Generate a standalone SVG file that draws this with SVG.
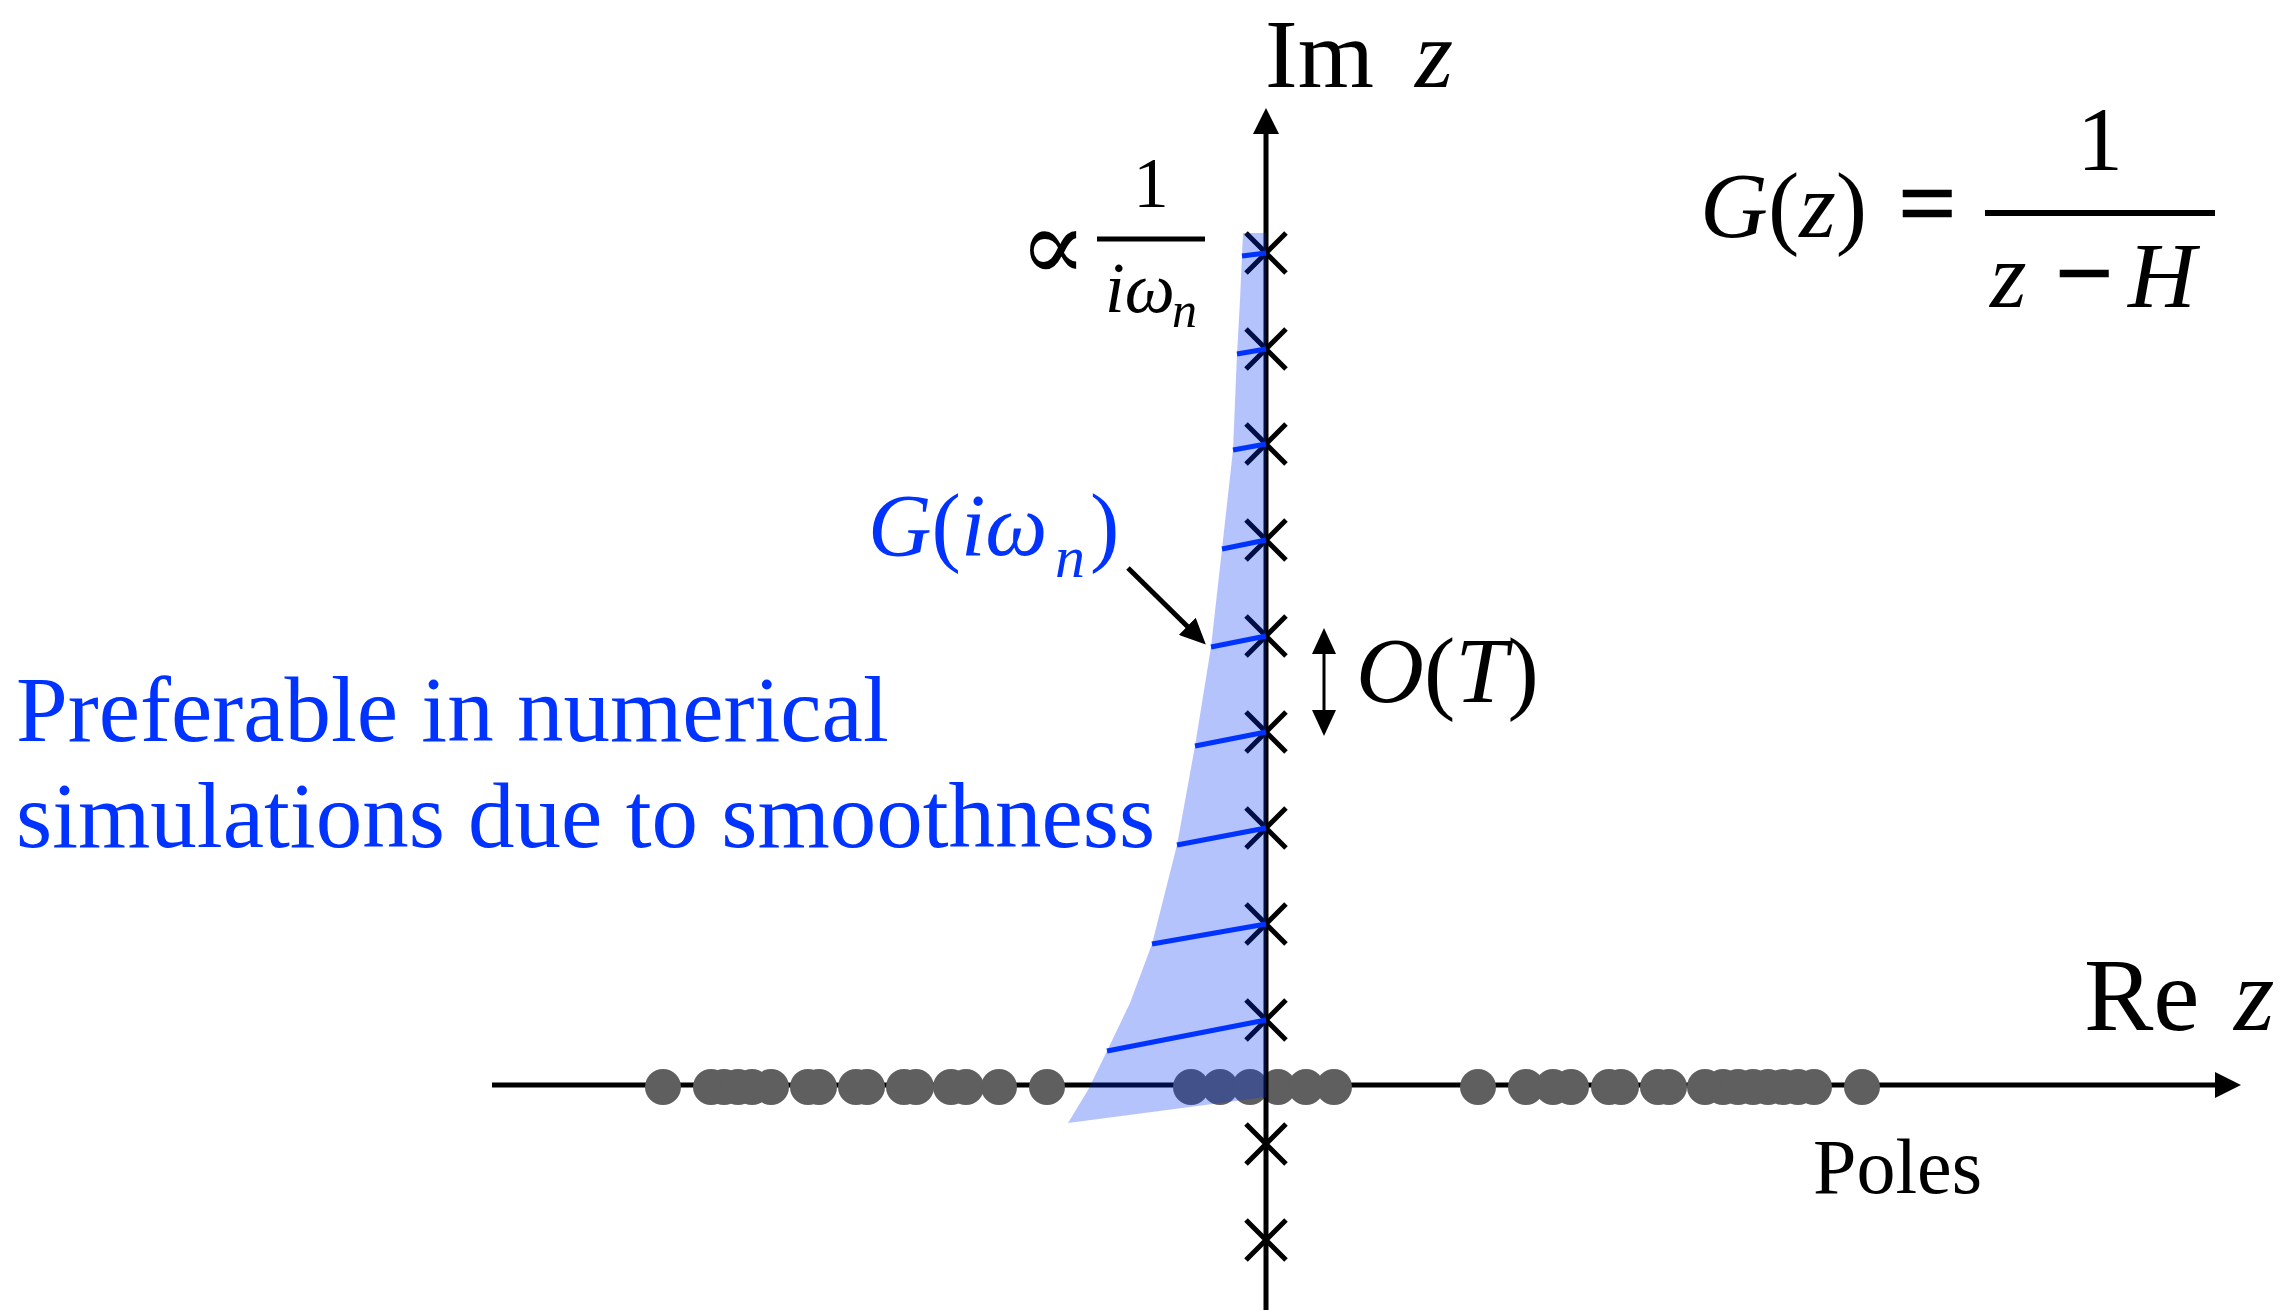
<svg xmlns="http://www.w3.org/2000/svg" width="2282" height="1310" viewBox="0 0 2282 1310">
<style>
text{font-family:"Liberation Serif","DejaVu Serif",serif;fill:#000}
.it{font-style:italic}
.blue{fill:#0033ff}
.axis{stroke:#000;stroke-width:5;fill:none}
.cross{stroke:#000;stroke-width:5;fill:none}
.dot{fill:#5f5f5f}
.bl{stroke:#0033ff;stroke-width:5;fill:none}
.thick{stroke:#000;stroke-width:2.5}
</style>
<defs>
<marker id="ah" markerUnits="userSpaceOnUse" markerWidth="26" markerHeight="26" viewBox="0 0 26 26" refX="1" refY="13" orient="auto-start-reverse">
<path d="M0,0 L26,13 L0,26 Z" fill="#000"/>
</marker>
<marker id="ahs" markerUnits="userSpaceOnUse" markerWidth="26" markerHeight="24" viewBox="0 0 26 24" refX="1" refY="12" orient="auto-start-reverse">
<path d="M0,0 L26,12 L0,24 Z" fill="#000"/>
</marker>
<path id="x" d="M-20,-20 L20,20 M-20,20 L20,-20"/>
</defs>

<g id="connectors">
<line id="re-axis" class="axis" x1="492" y1="1085" x2="2216" y2="1085" marker-end="url(#ah)"/>
</g>

<g id="poles">
<circle class="dot" cx="663" cy="1087" r="18"/>
<circle class="dot" cx="711" cy="1087" r="18"/>
<circle class="dot" cx="724" cy="1087" r="18"/>
<circle class="dot" cx="738" cy="1087" r="18"/>
<circle class="dot" cx="752" cy="1087" r="18"/>
<circle class="dot" cx="771" cy="1087" r="18"/>
<circle class="dot" cx="808" cy="1087" r="18"/>
<circle class="dot" cx="819" cy="1087" r="18"/>
<circle class="dot" cx="856" cy="1087" r="18"/>
<circle class="dot" cx="867" cy="1087" r="18"/>
<circle class="dot" cx="904" cy="1087" r="18"/>
<circle class="dot" cx="916" cy="1087" r="18"/>
<circle class="dot" cx="951" cy="1087" r="18"/>
<circle class="dot" cx="966" cy="1087" r="18"/>
<circle class="dot" cx="999" cy="1087" r="18"/>
<circle class="dot" cx="1047" cy="1087" r="18"/>
<circle class="dot" cx="1191" cy="1087" r="18"/>
<circle class="dot" cx="1220" cy="1087" r="18"/>
<circle class="dot" cx="1250" cy="1087" r="18"/>
<circle class="dot" cx="1278" cy="1087" r="18"/>
<circle class="dot" cx="1306" cy="1087" r="18"/>
<circle class="dot" cx="1334" cy="1087" r="18"/>
<circle class="dot" cx="1478" cy="1087" r="18"/>
<circle class="dot" cx="1526" cy="1087" r="18"/>
<circle class="dot" cx="1553" cy="1087" r="18"/>
<circle class="dot" cx="1571" cy="1087" r="18"/>
<circle class="dot" cx="1609" cy="1087" r="18"/>
<circle class="dot" cx="1621" cy="1087" r="18"/>
<circle class="dot" cx="1658" cy="1087" r="18"/>
<circle class="dot" cx="1669" cy="1087" r="18"/>
<circle class="dot" cx="1705" cy="1087" r="18"/>
<circle class="dot" cx="1723" cy="1087" r="18"/>
<circle class="dot" cx="1738" cy="1087" r="18"/>
<circle class="dot" cx="1753" cy="1087" r="18"/>
<circle class="dot" cx="1768" cy="1087" r="18"/>
<circle class="dot" cx="1783" cy="1087" r="18"/>
<circle class="dot" cx="1798" cy="1087" r="18"/>
<circle class="dot" cx="1814" cy="1087" r="18"/>
<circle class="dot" cx="1862" cy="1087" r="18"/>
</g>

<g id="im-axis">
<line class="axis" x1="1266" y1="1310" x2="1266" y2="133" marker-end="url(#ah)"/>
</g>

<g id="matsubara-points">
<use href="#x" class="cross" x="1266" y="253"/>
<use href="#x" class="cross" x="1266" y="349"/>
<use href="#x" class="cross" x="1266" y="444"/>
<use href="#x" class="cross" x="1266" y="540"/>
<use href="#x" class="cross" x="1266" y="636"/>
<use href="#x" class="cross" x="1266" y="732"/>
<use href="#x" class="cross" x="1266" y="828"/>
<use href="#x" class="cross" x="1266" y="924"/>
<use href="#x" class="cross" x="1266" y="1020"/>
<use href="#x" class="cross" x="1266" y="1144"/>
<use href="#x" class="cross" x="1266" y="1240"/>
</g>

<g id="band">
<path d="M1243,233 L1240,300 L1237,354 L1233,450 L1222,549 L1211,647 L1195,746 L1177,845 L1152,944 L1130,1003 L1107,1051 L1088,1090 L1068,1123 L1266,1097 L1266,233 Z" fill="#0030f4" fill-opacity="0.29"/>
</g>

<g id="g-values">
<line class="bl" x1="1242" y1="256" x2="1266" y2="253"/>
<line class="bl" x1="1237" y1="354" x2="1266" y2="349"/>
<line class="bl" x1="1233" y1="450" x2="1266" y2="444"/>
<line class="bl" x1="1222" y1="549" x2="1266" y2="540"/>
<line class="bl" x1="1211" y1="647" x2="1266" y2="636"/>
<line class="bl" x1="1195" y1="746" x2="1266" y2="732"/>
<line class="bl" x1="1177" y1="845" x2="1266" y2="828"/>
<line class="bl" x1="1152" y1="944" x2="1266" y2="924"/>
<line class="bl" x1="1107" y1="1051" x2="1266" y2="1020"/>
</g>

<g id="arrows">
<line x1="1128" y1="568" x2="1188" y2="627" stroke="#000" stroke-width="5" marker-end="url(#ahs)"/>
<line x1="1324" y1="653" x2="1324" y2="711" stroke="#000" stroke-width="3" marker-start="url(#ahs)" marker-end="url(#ahs)"/>
</g>

<g id="label-im">
<text x="1265" y="87" font-size="98">Im</text>
<text x="1415" y="87" font-size="98" class="it">z</text>
</g>
<g id="label-re">
<text x="2084" y="1030" font-size="104">Re</text>
<text x="2234" y="1030" font-size="104" class="it">z</text>
</g>
<g id="label-poles">
<text x="1813" y="1193" font-size="78">Poles</text>
</g>

<g id="label-propto">
<text x="1053" y="280" font-size="100" text-anchor="middle">∝</text>
<text x="1151" y="207" font-size="71" text-anchor="middle">1</text>
<line x1="1097" y1="239" x2="1205" y2="239" stroke="#000" stroke-width="5"/>
<text x="1105" y="312" font-size="71" class="it">iω</text>
<text x="1172" y="327" font-size="50" class="it">n</text>
</g>

<g id="label-gz">
<text x="1700" y="237" font-size="94"><tspan class="it">G</tspan>(<tspan class="it">z</tspan>)</text>
<text x="1899" y="237" font-size="100" class="thick">=</text>
<text x="2100" y="170" font-size="92" text-anchor="middle">1</text>
<line x1="1985" y1="213" x2="2215" y2="213" stroke="#000" stroke-width="6"/>
<text x="1990" y="307" font-size="94" class="it">z</text>
<text x="2056" y="307" font-size="100" class="thick">−</text>
<text x="2128" y="307" font-size="94" class="it">H</text>
</g>

<g id="label-ot">
<text x="1356" y="702" font-size="94"><tspan class="it">O</tspan>(<tspan class="it">T</tspan>)</text>
</g>

<g id="label-giw">
<text x="868" y="555" font-size="88" class="blue"><tspan class="it">G</tspan>(<tspan class="it">iω</tspan></text>
<text x="1055" y="577" font-size="60" class="blue it">n</text>
<text x="1090" y="555" font-size="88" class="blue">)</text>
</g>

<g id="label-preferable">
<text x="16" y="741" font-size="93" class="blue">Preferable in numerical</text>
<text x="16" y="847" font-size="93" class="blue">simulations due to smoothness</text>
</g>
</svg>
